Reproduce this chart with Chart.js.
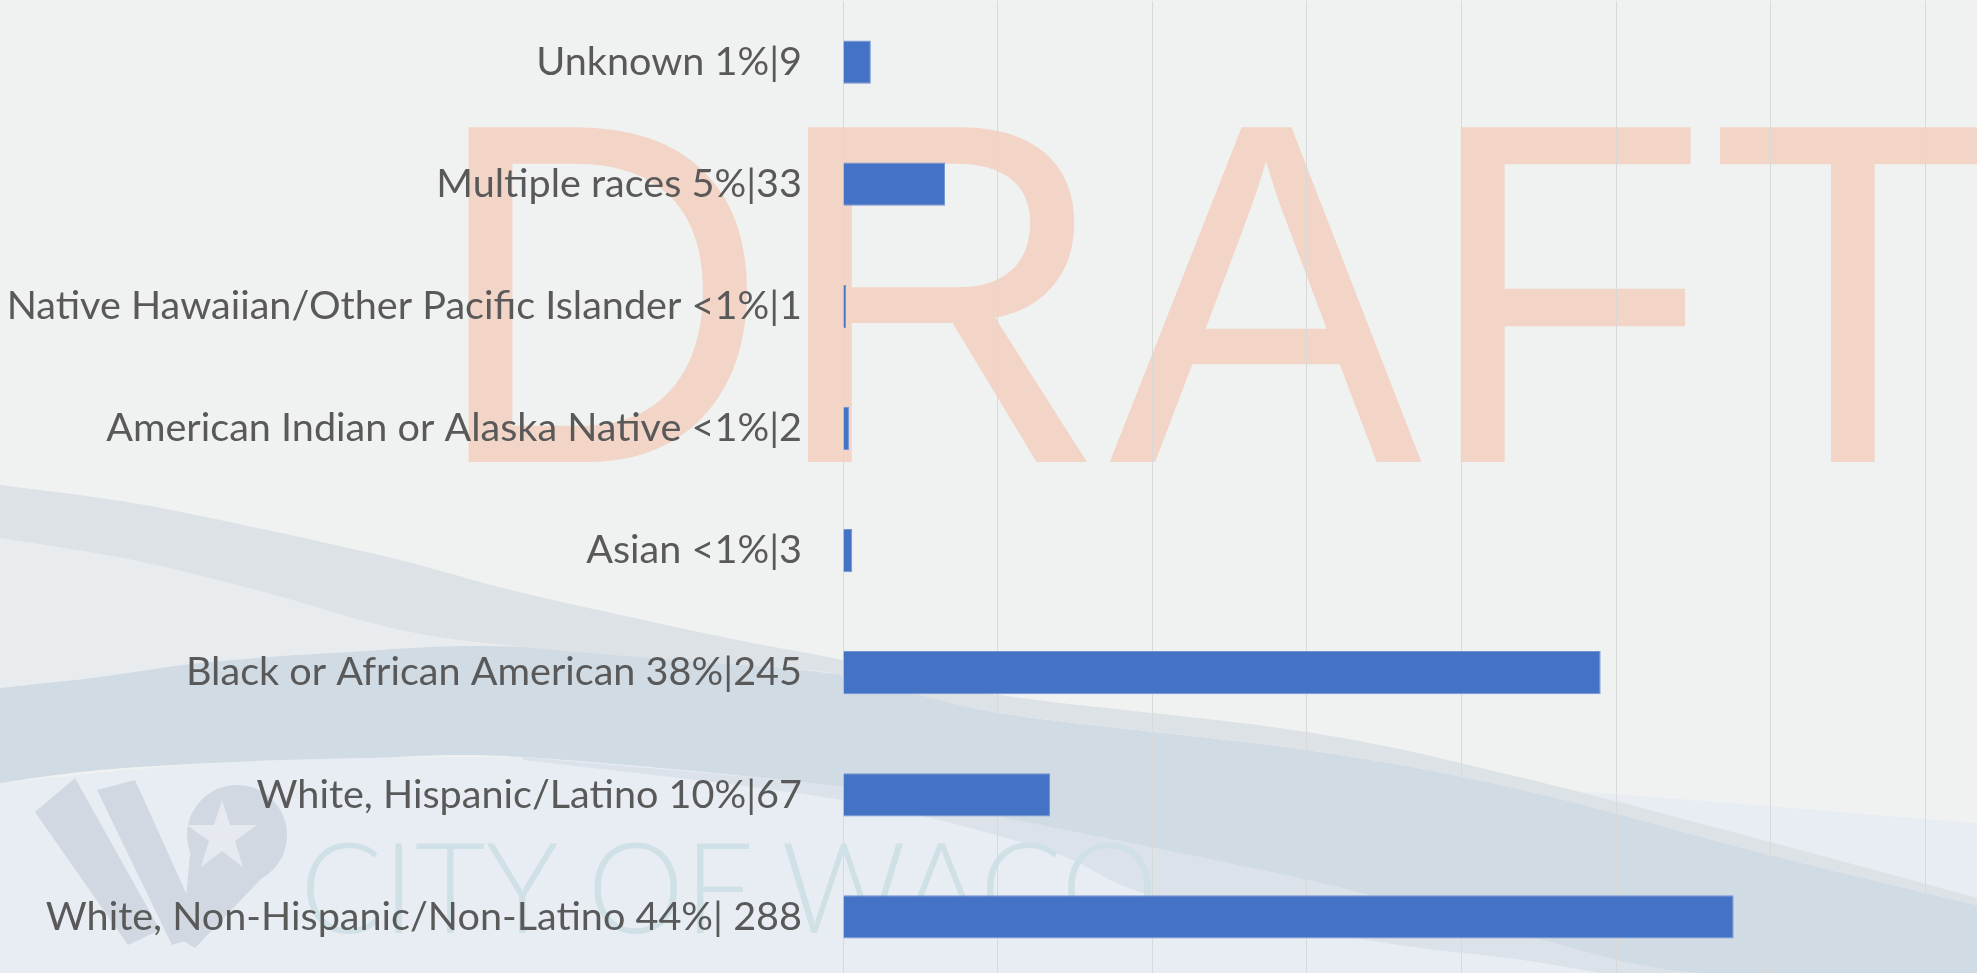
<!DOCTYPE html>
<html>
<head>
<meta charset="utf-8">
<script src="https://cdn.jsdelivr.net/npm/chart.js@4.4.1/dist/chart.umd.min.js"></script>
<style>
  html, body { margin: 0; padding: 0; width: 1977px; height: 973px; overflow: hidden; background: #f0f2f1; }
  #bg { position: absolute; left: 0; top: 0; }
  #wrap { position: absolute; left: 0; top: 0; width: 2080px; height: 978px; }
</style>
</head>
<body>
<svg id="bg" width="1977" height="973" viewBox="0 0 1977 973" xmlns="http://www.w3.org/2000/svg">
  <rect x="0" y="0" width="1977" height="973" fill="#f0f2f1"/>
  <path id="w1" fill="#e8edf3"/>
  <path id="w2" fill="#e9ecef"/>
  <path id="w3" fill="#dbe2e9"/>
  <path id="w4" fill="#d1dbe4"/>
  <path id="w5" fill="#dde2e7"/>
  <g fill="#d2d8e2">
    <polygon points="35,812 75,778 160,930 128,945"/>
    <polygon points="97,790 135,780 205,935 172,945"/>
    <circle cx="237" cy="835" r="50"/>
    <polygon points="190,855 284,855 195,948 182,940"/>
  </g>
  <polygon fill="#e6eaf0" points="222,800 230,825 257,825 235,841 243,867 222,851 201,867 209,841 187,825 214,825"/>
  <text x="300" y="933" font-family="Lato, 'Open Sans', sans-serif" font-weight="300" font-size="126" fill="#cfe0e6" textLength="858" lengthAdjust="spacingAndGlyphs">CITY OF WACO</text>
  <text x="430" y="462" font-family="'Liberation Sans', Arial, sans-serif" font-size="470" fill="#f2d5c7" transform="translate(0,462) scale(1,1.035) translate(0,-462)">DRAFT</text>
</svg>
<div id="wrap"><canvas id="c" width="2080" height="978"></canvas></div>
<script>
// ---- chart data ----
const categories = [
  "Unknown 1%|9",
  "Multiple races 5%|33",
  "Native Hawaiian/Other Pacific Islander <1%|1",
  "American Indian or Alaska Native <1%|2",
  "Asian <1%|3",
  "Black or African American 38%|245",
  "White, Hispanic/Latino 10%|67",
  "White, Non-Hispanic/Non-Latino 44%| 288"
];
const counts = [9, 33, 1, 2, 3, 245, 67, 288];
const axisMin = 0;
const axisMax = 400;
const axisStep = 50;

// ---- decorative background waves (smoothed outlines) ----
function smooth(pts) {
  let d = 'M' + pts[0][0] + ',' + pts[0][1];
  for (let i = 0; i < pts.length - 1; i++) {
    const p0 = pts[Math.max(0, i - 1)], p1 = pts[i], p2 = pts[i + 1], p3 = pts[Math.min(pts.length - 1, i + 2)];
    const c1x = p1[0] + (p2[0] - p0[0]) / 6, c1y = p1[1] + (p2[1] - p0[1]) / 6;
    const c2x = p2[0] - (p3[0] - p1[0]) / 6, c2y = p2[1] - (p3[1] - p1[1]) / 6;
    d += ' C' + c1x + ',' + c1y + ' ' + c2x + ',' + c2y + ' ' + p2[0] + ',' + p2[1];
  }
  return d;
}
function shape(top, bottom) {
  return smooth(top) + ' L' + smooth(bottom).slice(1) + ' Z';
}
const lowTop = [[0,783],[233,762],[523,757],[843,765],[1100,772],[1454,783],[1977,823]];
document.getElementById('w1').setAttribute('d', shape(lowTop, [[1977,973],[0,973]]));
document.getElementById('w2').setAttribute('d', shape(
  [[0,538],[133,560],[267,593],[400,630],[523,647]],
  [[523,647],[333,653],[200,663],[100,677],[0,688]]));
document.getElementById('w3').setAttribute('d', shape(
  [[523,757],[843,787],[1000,817],[1307,880],[1523,935],[1700,973]],
  [[1600,973],[1523,960],[1367,940],[1150,895],[1046,850],[843,800],[523,760]]));
document.getElementById('w4').setAttribute('d', shape(
  [[0,688],[100,677],[200,663],[333,653],[523,647],[843,675],[1000,713],[1307,750],[1523,790],[1770,855],[1977,905]],
  [[1977,973],[1700,973],[1523,935],[1307,880],[1000,817],[843,787],[523,757],[367,758],[233,762],[100,770],[0,783]]));
document.getElementById('w5').setAttribute('d', shape(
  [[0,485],[133,503],[267,530],[400,560],[523,593],[723,637],[843,660],[1000,695],[1307,732],[1523,778],[1770,842],[1977,898]],
  [[1977,905],[1770,855],[1523,790],[1307,750],[1000,713],[843,675],[700,662],[523,647],[400,630],[267,593],[133,560],[0,538]]));

// ---- chart ----
new Chart(document.getElementById('c'), {
  type: 'bar',
  data: {
    labels: categories,
    datasets: [{
      data: counts,
      backgroundColor: '#4472c4',
      borderColor: '#7294d3',
      borderWidth: 1,
      barPercentage: 0.355,
      categoryPercentage: 1.0
    }]
  },
  options: {
    indexAxis: 'y',
    responsive: false,
    animation: false,
    layout: { padding: { top: 1, left: 0, right: 0, bottom: 0 } },
    plugins: { legend: { display: false }, tooltip: { enabled: false } },
    scales: {
      x: {
        min: axisMin, max: axisMax,
        ticks: { display: false, stepSize: axisStep },
        grid: { color: '#d9d9d9', lineWidth: 1, drawTicks: false },
        border: { display: false },
        afterFit: (s) => { s.height = 0; s.paddingLeft = 0; s.paddingRight = 0; }
      },
      y: {
        grid: { display: false, drawTicks: false },
        border: { display: false },
        ticks: {
          color: '#595959',
          padding: 41,
          font: { family: 'Lato, "Open Sans", sans-serif', size: 39.6 }
        },
        afterFit: (s) => { s.width = 843; s.paddingTop = 0; s.paddingBottom = 0; }
      }
    }
  }
});
</script>
</body>
</html>
